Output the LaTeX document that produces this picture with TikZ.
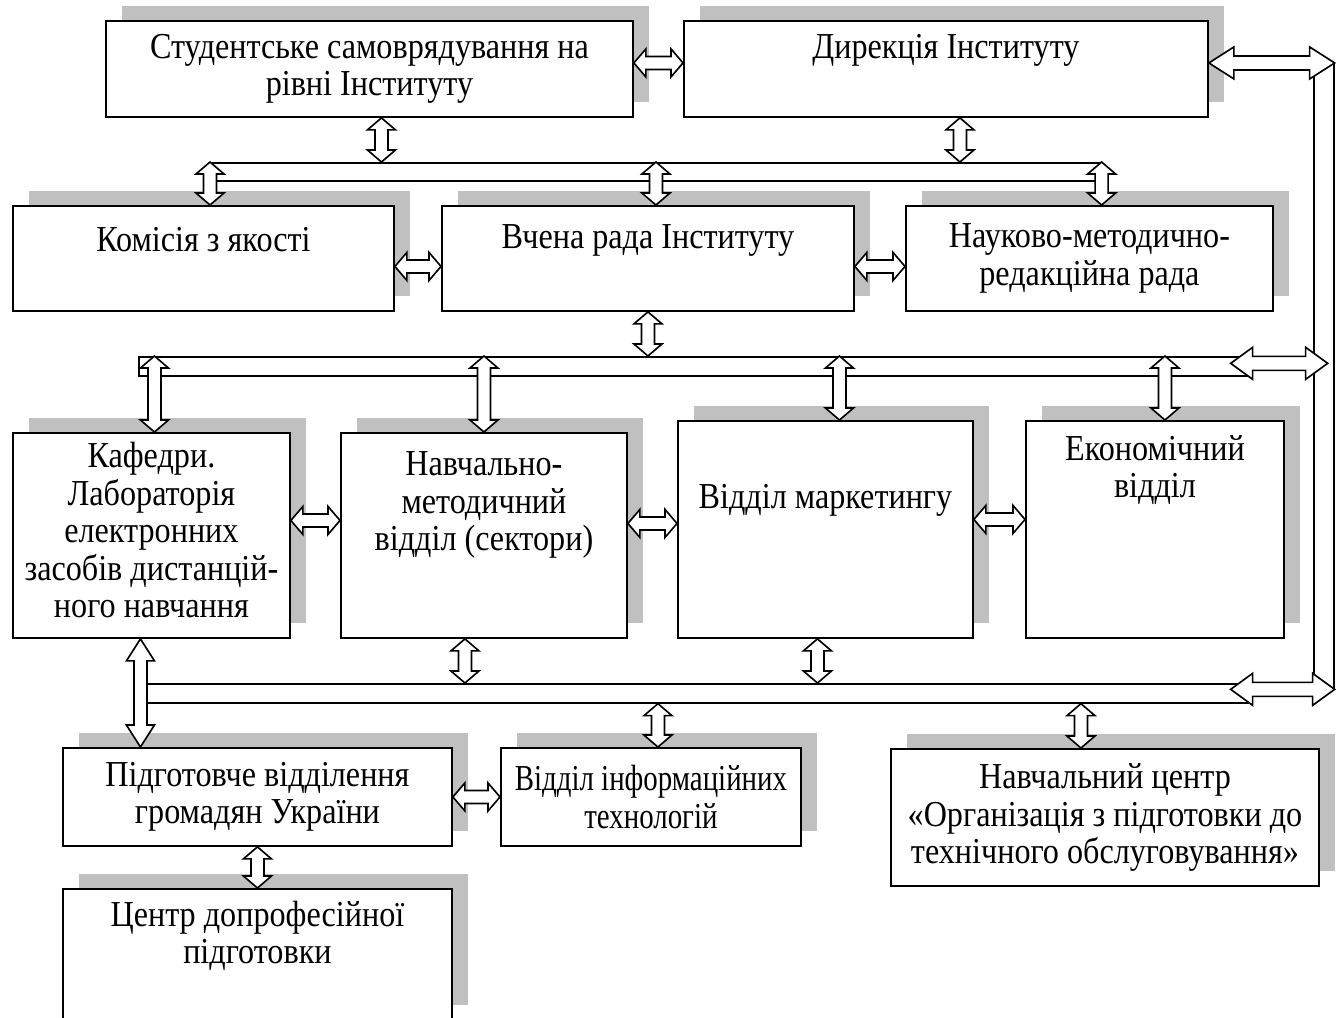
\documentclass[tikz,border=0pt]{standalone}
\usepackage{fontspec}
\setmainfont{Liberation Serif}[FakeStretch=0.88]
\newfontfamily\narrowserif{Liberation Serif}[FakeStretch=0.79]
\usetikzlibrary{calc, shadows}
\definecolor{shadowgray}{RGB}{192,192,192}
\newcommand\pu{0.015cm}
\newcommand\headw{14}
\newcommand\shaftw{6.5}
\tikzset{
  unit/.style={draw, line width=0.8pt, fill=white, inner sep=0pt, anchor=north west,
    drop shadow={shadow xshift=0.24cm, shadow yshift=0.225cm, opacity=1, fill=shadowgray}},
  bus/.style={draw, line width=0.7pt, fill=white, inner sep=0pt, anchor=north west},
  txt/.style={align=center, inner sep=0pt, font=\fontsize{15.6}{16}\selectfont},
  link/.style={draw, line width=0.7pt, fill=white, line join=miter}
}
% hollow double arrows: vertical (top, bottom) and horizontal (left, right)
\newcommand\vlink[3][12]{%
  \draw[link] let \p1=#2, \p2=#3 in
    (\x1,\y1) -- (\x1+\headw*\pu,\y1-#1*\pu) -- (\x1+\shaftw*\pu,\y1-#1*\pu)
    -- (\x1+\shaftw*\pu,\y2+#1*\pu) -- (\x1+\headw*\pu,\y2+#1*\pu) -- (\x1,\y2)
    -- (\x1-\headw*\pu,\y2+#1*\pu) -- (\x1-\shaftw*\pu,\y2+#1*\pu)
    -- (\x1-\shaftw*\pu,\y1-#1*\pu) -- (\x1-\headw*\pu,\y1-#1*\pu) -- cycle;}
\newcommand\hlink[3][12]{%
  \draw[link] let \p1=#2, \p2=#3 in
    (\x1,\y1) -- (\x1+#1*\pu,\y1+\headw*\pu) -- (\x1+#1*\pu,\y1+\shaftw*\pu)
    -- (\x2-#1*\pu,\y1+\shaftw*\pu) -- (\x2-#1*\pu,\y1+\headw*\pu) -- (\x2,\y1)
    -- (\x2-#1*\pu,\y1-\headw*\pu) -- (\x2-#1*\pu,\y1-\shaftw*\pu)
    -- (\x1+#1*\pu,\y1-\shaftw*\pu) -- (\x1+#1*\pu,\y1-\headw*\pu) -- cycle;}

\begin{document}
\begin{tikzpicture}[x=\pu, y=-\pu]
  \useasboundingbox (0,0) rectangle (1343,1017);
  % boxes
  \node[unit, minimum width=527*\pu, minimum height=96*\pu] (studrada) at (105,20) {};
  \node[unit, minimum width=524*\pu, minimum height=96*\pu] (dyrekcia) at (683,20) {};
  \node[unit, minimum width=381*\pu, minimum height=105*\pu] (komisia) at (12,205) {};
  \node[unit, minimum width=412*\pu, minimum height=105*\pu] (vchenarada) at (441,205) {};
  \node[unit, minimum width=367*\pu, minimum height=105*\pu] (nmrrada) at (905,205) {};
  \node[unit, minimum width=277*\pu, minimum height=205*\pu] (kafedry) at (12,432) {};
  \node[unit, minimum width=286*\pu, minimum height=205*\pu] (nmv) at (340,432) {};
  \node[unit, minimum width=295*\pu, minimum height=217*\pu] (marketing) at (677,420) {};
  \node[unit, minimum width=258*\pu, minimum height=217*\pu] (ekonom) at (1025,420) {};
  \node[unit, minimum width=389*\pu, minimum height=98*\pu] (pidgot) at (62,747) {};
  \node[unit, minimum width=300*\pu, minimum height=98*\pu] (infotech) at (500,747) {};
  \node[unit, minimum width=428*\pu, minimum height=137*\pu] (navcentr) at (890,748) {};
  \node[unit, minimum width=389*\pu, minimum height=131*\pu] (dopro) at (62,888) {};

  % texts
  \node[txt] (studrada-t) at (studrada.center) {Студентське самоврядування на\\рівні Інституту};
  \node[txt] (dyrekcia-t) at ($(dyrekcia.north)+(0,30)$) {Дирекція Інституту};
  \node[txt] (komisia-t) at ($(komisia.north)+(0,35)$) {Комісія з якості};
  \node[txt] (vchenarada-t) at ($(vchenarada.north)+(0,35)$) {Вчена рада Інституту};
  \node[txt] (nmrrada-t) at (nmrrada.center) {Науково-методично-\\редакційна рада};
  \node[txt] (kafedry-t) at ($(kafedry.center)+(0,-5)$) {Кафедри.\\Лабораторія\\електронних\\засобів дистанцій-\\ного навчання};
  \node[txt] (nmv-t) at ($(nmv.north)+(0,73)$) {Навчально-\\методичний\\відділ (сектори)};
  \node[txt] (marketing-t) at ($(marketing.north)+(0,80)$) {Відділ маркетингу};
  \node[txt] (ekonom-t) at ($(ekonom.north)+(0,50)$) {Економічний\\відділ};
  \node[txt] (pidgot-t) at (pidgot.center) {Підготовче відділення\\громадян України};
  \node[txt, font=\narrowserif\fontsize{15.6}{16}\selectfont] (infotech-t) at (infotech.center) {Відділ інформаційних\\технологій};
  \node[txt] (navcentr-t) at (navcentr.center) {Навчальний центр\\«Організація з підготовки до\\технічного обслуговування»};
  \node[txt] (dopro-t) at ($(dopro.north)+(0,48)$) {Центр допрофесійної\\підготовки};

  % buses
  \node[bus, minimum width=890*\pu, minimum height=18*\pu] (bus1) at (210,162) {};
  \node[bus, minimum width=1112*\pu, minimum height=19*\pu] (bus2) at (138,356) {};
  \node[bus, minimum width=1112*\pu, minimum height=19*\pu] (bus3) at (138,683) {};
  \node[bus, minimum width=20*\pu, minimum height=626*\pu] (riser) at (1313,62) {};

  % links
  \hlink{($(studrada.east)+(0,-6)$)}{(dyrekcia.west)}
  \vlink{($(studrada.south)+(12,0)$)}{(bus1.north)}
  \vlink{($(dyrekcia.south)+(14,0)$)}{(bus1.north)}
  \vlink{(bus1.north west)}{(komisia.north)}
  \vlink{($(vchenarada.north |- bus1.north)+(8,0)$)}{(vchenarada.north)}
  \vlink{(bus1.north east)}{(nmrrada.north)}
  \hlink{($(komisia.east)+(0,8)$)}{(vchenarada.west)}
  \hlink{($(vchenarada.east)+(0,8)$)}{(nmrrada.west)}
  \vlink{(vchenarada.south)}{(bus2.north)}
  \vlink{($(kafedry.north |- bus2.north)+(3,0)$)}{(kafedry.north)}
  \vlink{(nmv.north |- bus2.north)}{(nmv.north)}
  \vlink{($(marketing.north |- bus2.north)+(14,0)$)}{(marketing.north)}
  \vlink{($(ekonom.north |- bus2.north)+(10,0)$)}{(ekonom.north)}
  \hlink{($(kafedry.east)+(0,-15)$)}{(nmv.west)}
  \hlink{($(nmv.east)+(0,-12)$)}{(marketing.west)}
  \hlink{($(marketing.east)+(0,-10)$)}{(ekonom.west)}
  \vlink{($(nmv.south)+(-19,0)$)}{(bus3.north)}
  \vlink{($(marketing.south)+(-8,0)$)}{(bus3.north)}
  \vlink{($(infotech.north |- bus3.south)+(7,0)$)}{(infotech.north)}
  \vlink{($(navcentr.north |- bus3.south)+(-24,0)$)}{(navcentr.north)}
  \vlink[22]{($(kafedry.south)+(-11,0)$)}{(pidgot.north)}
  \hlink{(pidgot.east)}{(infotech.west)}
  \vlink{(pidgot.south)}{(dopro.north)}
  % links to the riser
  \renewcommand\headw{16}\renewcommand\shaftw{7}
  \hlink[25]{($(dyrekcia.east)+(0,-6)$)}{(riser.north east)}
  \hlink[22]{($(bus2.east)+(-21,-3)$)}{($(riser.east |- bus2.east)+(-7,0)$)}
  \hlink[22]{($(bus3.east)+(-21,-4)$)}{(riser.south east)}
\end{tikzpicture}
\end{document}
